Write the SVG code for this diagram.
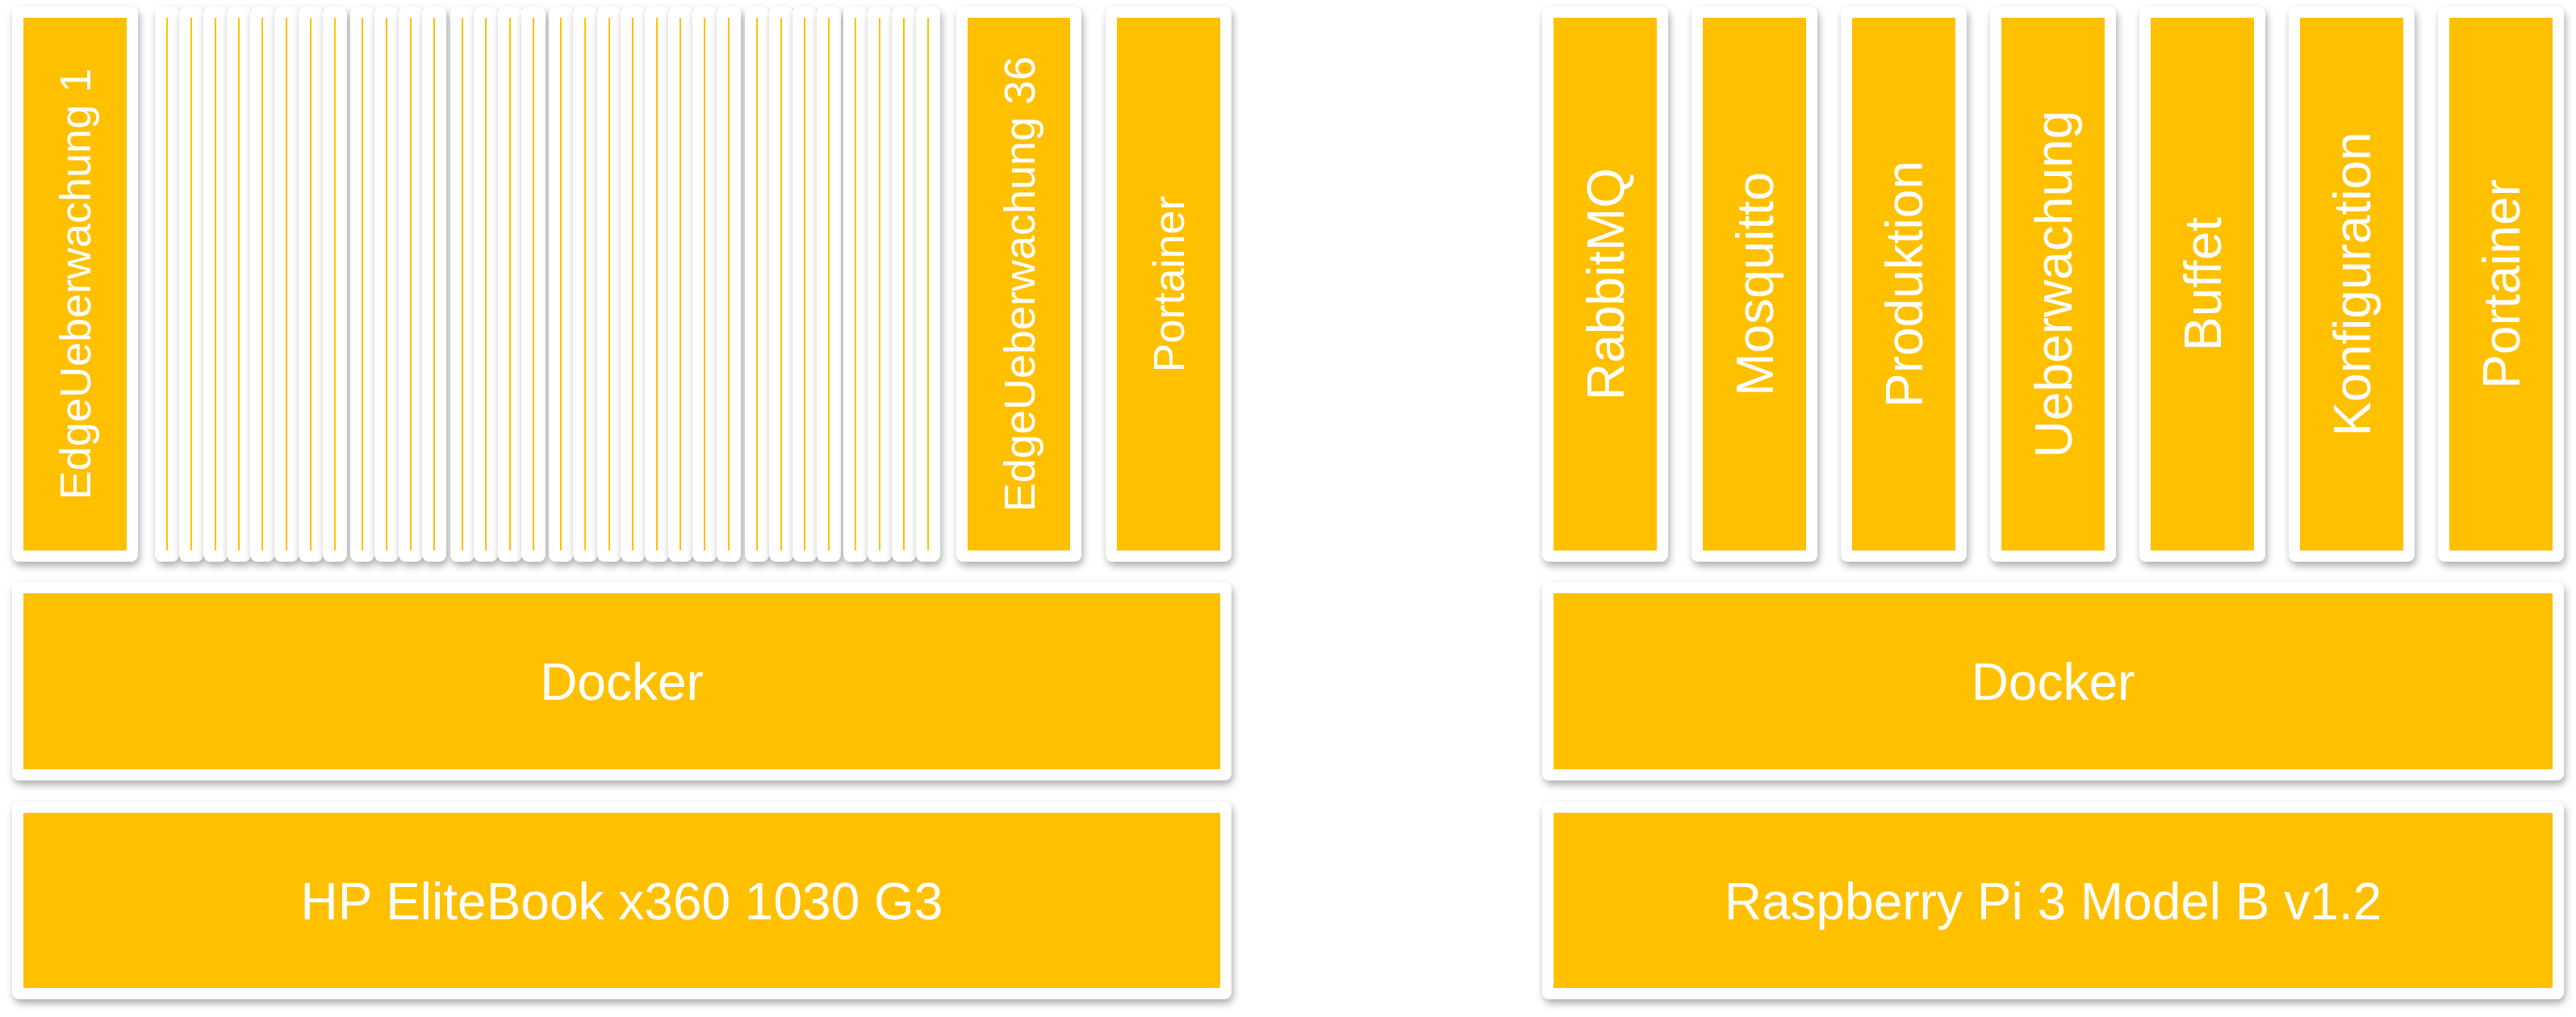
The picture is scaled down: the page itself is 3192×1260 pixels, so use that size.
<svg xmlns="http://www.w3.org/2000/svg" width="3192" height="1260" viewBox="0 0 3192 1260">
  <defs>
    <filter id="sh" x="-60%" y="-20%" width="220%" height="140%">
      <feDropShadow dx="2" dy="5" stdDeviation="5" flood-color="#000" flood-opacity="0.33"/>
    </filter>
    <style>
      .card { fill: #FFFFFF; filter: url(#sh); }
      .fill { fill: #FFC000; }
      .vl { font-family: "Liberation Sans", Arial, sans-serif; font-size: 54px; fill: #FFFFFF; text-anchor: middle; }
      .vr { font-family: "Liberation Sans", Arial, sans-serif; font-size: 64px; fill: #FFFFFF; text-anchor: middle; }
      .hl { font-family: "Liberation Sans", Arial, sans-serif; font-size: 64px; fill: #FFFFFF; text-anchor: middle; }
    </style>
  </defs>
  <rect x="0" y="0" width="3192" height="1260" fill="#FFFFFF"/>

  <!-- Left stack -->
  <g id="edge1">
    <rect class="card" x="15" y="8" width="156" height="688" rx="9"/>
    <rect class="fill" x="29" y="22" width="128" height="660"/>
    <text class="vl" transform="translate(112,352) rotate(-90)">EdgeUeberwachung 1</text>
  </g>

  <g id="edge2"><rect class="card" x="192" y="8" width="30" height="688" rx="9"/><rect class="fill" x="206" y="22" width="2" height="660"/></g>
  <g id="edge3"><rect class="card" x="222" y="8" width="30" height="688" rx="9"/><rect class="fill" x="236" y="22" width="2" height="660"/></g>
  <g id="edge4"><rect class="card" x="252" y="8" width="30" height="688" rx="9"/><rect class="fill" x="266" y="22" width="2" height="660"/></g>
  <g id="edge5"><rect class="card" x="281" y="8" width="30" height="688" rx="9"/><rect class="fill" x="295" y="22" width="2" height="660"/></g>
  <g id="edge6"><rect class="card" x="310" y="8" width="30" height="688" rx="9"/><rect class="fill" x="324" y="22" width="2" height="660"/></g>
  <g id="edge7"><rect class="card" x="340" y="8" width="30" height="688" rx="9"/><rect class="fill" x="354" y="22" width="2" height="660"/></g>
  <g id="edge8"><rect class="card" x="370" y="8" width="30" height="688" rx="9"/><rect class="fill" x="384" y="22" width="2" height="660"/></g>
  <g id="edge9"><rect class="card" x="400" y="8" width="30" height="688" rx="9"/><rect class="fill" x="414" y="22" width="2" height="660"/></g>
  <g id="edge10"><rect class="card" x="434" y="8" width="30" height="688" rx="9"/><rect class="fill" x="448" y="22" width="2" height="660"/></g>
  <g id="edge11"><rect class="card" x="464" y="8" width="30" height="688" rx="9"/><rect class="fill" x="478" y="22" width="2" height="660"/></g>
  <g id="edge12"><rect class="card" x="494" y="8" width="30" height="688" rx="9"/><rect class="fill" x="508" y="22" width="2" height="660"/></g>
  <g id="edge13"><rect class="card" x="523" y="8" width="30" height="688" rx="9"/><rect class="fill" x="537" y="22" width="2" height="660"/></g>
  <g id="edge14"><rect class="card" x="558" y="8" width="30" height="688" rx="9"/><rect class="fill" x="572" y="22" width="2" height="660"/></g>
  <g id="edge15"><rect class="card" x="587" y="8" width="30" height="688" rx="9"/><rect class="fill" x="601" y="22" width="2" height="660"/></g>
  <g id="edge16"><rect class="card" x="617" y="8" width="30" height="688" rx="9"/><rect class="fill" x="631" y="22" width="2" height="660"/></g>
  <g id="edge17"><rect class="card" x="646" y="8" width="30" height="688" rx="9"/><rect class="fill" x="660" y="22" width="2" height="660"/></g>
  <g id="edge18"><rect class="card" x="680" y="8" width="30" height="688" rx="9"/><rect class="fill" x="694" y="22" width="2" height="660"/></g>
  <g id="edge19"><rect class="card" x="710" y="8" width="30" height="688" rx="9"/><rect class="fill" x="724" y="22" width="2" height="660"/></g>
  <g id="edge20"><rect class="card" x="740" y="8" width="30" height="688" rx="9"/><rect class="fill" x="754" y="22" width="2" height="660"/></g>
  <g id="edge21"><rect class="card" x="769" y="8" width="30" height="688" rx="9"/><rect class="fill" x="783" y="22" width="2" height="660"/></g>
  <g id="edge22"><rect class="card" x="799" y="8" width="30" height="688" rx="9"/><rect class="fill" x="813" y="22" width="2" height="660"/></g>
  <g id="edge23"><rect class="card" x="828" y="8" width="30" height="688" rx="9"/><rect class="fill" x="842" y="22" width="2" height="660"/></g>
  <g id="edge24"><rect class="card" x="858" y="8" width="30" height="688" rx="9"/><rect class="fill" x="872" y="22" width="2" height="660"/></g>
  <g id="edge25"><rect class="card" x="888" y="8" width="30" height="688" rx="9"/><rect class="fill" x="902" y="22" width="2" height="660"/></g>
  <g id="edge26"><rect class="card" x="923" y="8" width="30" height="688" rx="9"/><rect class="fill" x="937" y="22" width="2" height="660"/></g>
  <g id="edge27"><rect class="card" x="953" y="8" width="30" height="688" rx="9"/><rect class="fill" x="967" y="22" width="2" height="660"/></g>
  <g id="edge28"><rect class="card" x="982" y="8" width="30" height="688" rx="9"/><rect class="fill" x="996" y="22" width="2" height="660"/></g>
  <g id="edge29"><rect class="card" x="1012" y="8" width="30" height="688" rx="9"/><rect class="fill" x="1026" y="22" width="2" height="660"/></g>
  <g id="edge30"><rect class="card" x="1045" y="8" width="30" height="688" rx="9"/><rect class="fill" x="1059" y="22" width="2" height="660"/></g>
  <g id="edge31"><rect class="card" x="1075" y="8" width="30" height="688" rx="9"/><rect class="fill" x="1089" y="22" width="2" height="660"/></g>
  <g id="edge32"><rect class="card" x="1105" y="8" width="30" height="688" rx="9"/><rect class="fill" x="1119" y="22" width="2" height="660"/></g>
  <g id="edge33"><rect class="card" x="1135" y="8" width="30" height="688" rx="9"/><rect class="fill" x="1149" y="22" width="2" height="660"/></g>

  <g id="edge36">
    <rect class="card" x="1185" y="8" width="155" height="688" rx="9"/>
    <rect class="fill" x="1199" y="22" width="127" height="660"/>
    <text class="vl" transform="translate(1282,352) rotate(-90)">EdgeUeberwachung 36</text>
  </g>

  <g id="portainer-left">
    <rect class="card" x="1370" y="8" width="156" height="688" rx="9"/>
    <rect class="fill" x="1384" y="22" width="128" height="660"/>
    <text class="vl" transform="translate(1467,352) rotate(-90)">Portainer</text>
  </g>

  <g id="docker-left">
    <rect class="card" x="15" y="721" width="1511" height="246" rx="9"/>
    <rect class="fill" x="29" y="735" width="1483" height="218"/>
    <text class="hl" x="770.5" y="867">Docker</text>
  </g>

  <g id="hp">
    <rect class="card" x="15" y="993" width="1511" height="245" rx="9"/>
    <rect class="fill" x="29" y="1007" width="1483" height="217"/>
    <text class="hl" x="770.5" y="1139">HP EliteBook x360 1030 G3</text>
  </g>

  <!-- Right stack -->
  <g id="rabbitmq">
    <rect class="card" x="1911" y="8" width="156" height="688" rx="9"/>
    <rect class="fill" x="1925" y="22" width="128" height="660"/>
    <text class="vr" transform="translate(2012,352) rotate(-90)">RabbitMQ</text>
  </g>
  <g id="mosquitto">
    <rect class="card" x="2096" y="8" width="156" height="688" rx="9"/>
    <rect class="fill" x="2110" y="22" width="128" height="660"/>
    <text class="vr" transform="translate(2197,352) rotate(-90)">Mosquitto</text>
  </g>
  <g id="produktion">
    <rect class="card" x="2281" y="8" width="156" height="688" rx="9"/>
    <rect class="fill" x="2295" y="22" width="128" height="660"/>
    <text class="vr" transform="translate(2382,352) rotate(-90)">Produktion</text>
  </g>
  <g id="ueberwachung">
    <rect class="card" x="2466" y="8" width="156" height="688" rx="9"/>
    <rect class="fill" x="2480" y="22" width="128" height="660"/>
    <text class="vr" transform="translate(2567,352) rotate(-90)">Ueberwachung</text>
  </g>
  <g id="buffet">
    <rect class="card" x="2651" y="8" width="156" height="688" rx="9"/>
    <rect class="fill" x="2665" y="22" width="128" height="660"/>
    <text class="vr" transform="translate(2752,352) rotate(-90)">Buffet</text>
  </g>
  <g id="konfiguration">
    <rect class="card" x="2836" y="8" width="156" height="688" rx="9"/>
    <rect class="fill" x="2850" y="22" width="128" height="660"/>
    <text class="vr" transform="translate(2937,352) rotate(-90)">Konfiguration</text>
  </g>
  <g id="portainer-right">
    <rect class="card" x="3021" y="8" width="156" height="688" rx="9"/>
    <rect class="fill" x="3035" y="22" width="128" height="660"/>
    <text class="vr" transform="translate(3122,352) rotate(-90)">Portainer</text>
  </g>

  <g id="docker-right">
    <rect class="card" x="1911" y="721" width="1266" height="246" rx="9"/>
    <rect class="fill" x="1925" y="735" width="1238" height="218"/>
    <text class="hl" x="2544" y="867">Docker</text>
  </g>

  <g id="raspberry">
    <rect class="card" x="1911" y="993" width="1266" height="245" rx="9"/>
    <rect class="fill" x="1925" y="1007" width="1238" height="217"/>
    <text class="hl" x="2544" y="1139">Raspberry Pi 3 Model B v1.2</text>
  </g>

  <g id="connectors"/>
</svg>
